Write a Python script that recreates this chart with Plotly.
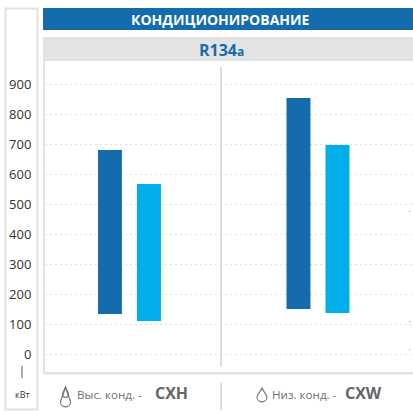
import plotly.graph_objects as go

W, H = 413, 412
L, R, T, B = 45, 413, 61, 372

categories = ["CXH", "CXW"]
dark_low = [133, 150]
dark_high = [680, 853]
light_low = [110, 137]
light_high = [567, 697]
tick_values = [0, 100, 200, 300, 400, 500, 600, 700, 800, 900]
tick_labels = [str(v) for v in tick_values]

DARK = "#156CAD"
LIGHT = "#00AEEA"
FONT = "Open Sans"


def px(x):
    return (x - L) / (R - L)


def py(y):
    return (B - y) / (B - T)


def rect(x0, y0, x1, y1, fill="rgba(0,0,0,0)", line=None, width=0):
    return dict(type="rect", xref="paper", yref="paper", x0=px(x0), x1=px(x1), y0=py(y0), y1=py(y1),
                fillcolor=fill, line=dict(color=line or "rgba(0,0,0,0)", width=width), layer="below")


def vline(x, y0, y1, color="#D5D5D5", width=1.6):
    return dict(type="line", xref="paper", yref="paper", x0=px(x), x1=px(x), y0=py(y0), y1=py(y1),
                line=dict(color=color, width=width))


def drop(cx, top, bottom, half, color="#6F6F6F"):
    mid = bottom - half
    p = (f"M{px(cx)},{py(top)} "
         f"C{px(cx - half * 0.3)},{py(top + (mid - top) * 0.45)} {px(cx - half)},{py(mid - half * 0.5)} {px(cx - half)},{py(mid)} "
         f"C{px(cx - half)},{py(bottom + 1.5)} {px(cx + half)},{py(bottom + 1.5)} {px(cx + half)},{py(mid)} "
         f"C{px(cx + half)},{py(mid - half * 0.5)} {px(cx + half * 0.3)},{py(top + (mid - top) * 0.45)} {px(cx)},{py(top)} Z")
    return dict(type="path", xref="paper", yref="paper", path=p, line=dict(color=color, width=1.1))


def note(x, y, text, size, color, xanchor="center", bold=False):
    return dict(xref="paper", yref="paper", x=px(x), y=py(y), text=f"<b>{text}</b>" if bold else text,
                showarrow=False, xanchor=xanchor, yanchor="middle", xshift=0,
                font=dict(family=FONT, size=size, color=color))


fig = go.Figure()
fig.add_bar(x=categories, y=[h - l for h, l in zip(dark_high, dark_low)], base=dark_low,
            marker=dict(color=DARK, line=dict(width=0)), showlegend=False)
fig.add_bar(x=categories, y=[h - l for h, l in zip(light_high, light_low)], base=light_low,
            marker=dict(color=LIGHT, line=dict(width=0)), showlegend=False)

shapes = [
    rect(5.5, 8.5, 37.5, 409.5, line="#E2E2E2", width=2),
    rect(43, 8, 413, 30, fill=DARK),
    rect(43, 37, 413, 61, fill="#E3E3E3"),
    rect(43, 61, 45, 374, fill="#E3E3E3"),
    rect(43, 372, 413, 374.5, fill="#E3E3E3"),
    vline(221, 67, 367),
    vline(221, 383, 410),
    vline(22, 366, 378, color="#555555", width=1),
    drop(65.5, 387, 407, 5),
    drop(65.5, 387, 397, 3),
    drop(262, 388, 402, 5),
    rect(409, 321, 410, 322, fill="#999999"),
    rect(409, 349, 410, 350, fill="#999999"),
    rect(409, 211, 410, 212, fill="#999999"),
]

annotations = [
    note(220.5, 19.5, "КОНДИЦИОНИРОВАНИЕ", 14, "#FFFFFF", bold=True),
    note(221, 50, "R134<span style='font-size:12px'>a</span>", 16, DARK, bold=True),
    note(22, 394, "кВт", 9, "#333333"),
    note(74.5, 394, "Выс. конд. -", 11.6, "#707070", xanchor="left"),
    note(153, 393, "CXH", 16, "#666666", xanchor="left", bold=True),
    note(269.5, 394, "Низ. конд. -", 11.6, "#707070", xanchor="left"),
    note(343, 393, "CXW", 16, "#666666", xanchor="left", bold=True),
]

fig.update_layout(
    width=W, height=H,
    margin=dict(l=L, r=W - R, t=T, b=H - B, pad=0),
    paper_bgcolor="white", plot_bgcolor="white",
    barmode="group", bargap=0.586, bargroupgap=0.386,
    shapes=shapes, annotations=annotations,
    xaxis=dict(range=[-0.448, 1.504], showticklabels=False, showgrid=False, zeroline=False, ticks=""),
    yaxis=dict(range=[-60, 976.7], tickmode="array", tickvals=tick_values, ticktext=tick_labels,
               showgrid=True, griddash="2px,3px", gridcolor="#E2E2E2", gridwidth=1, zeroline=False,
               ticks="outside", ticklen=10, tickcolor="rgba(0,0,0,0)", showline=False,
               tickfont=dict(family=FONT, size=13, color="#333333")),
)

fig.write_html("out.html", config={"displayModeBar": False},
               post_script="document.body.style.margin='0';document.documentElement.style.overflow='hidden';")
